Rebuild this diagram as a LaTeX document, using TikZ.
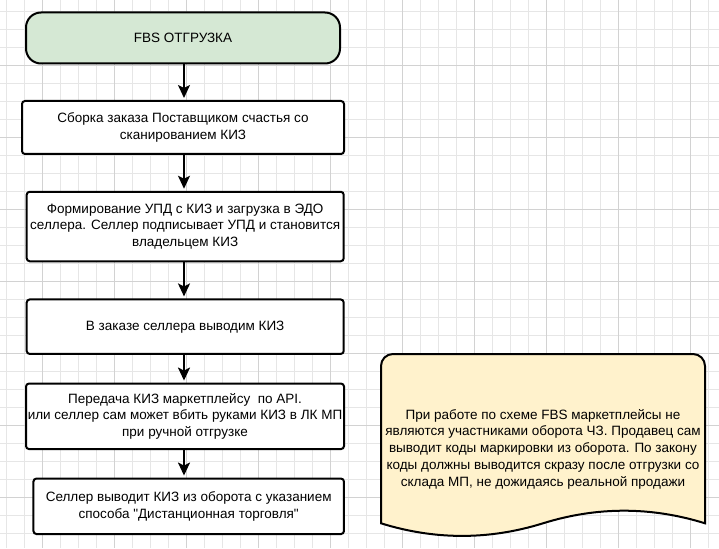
\documentclass[tikz,border=0pt]{standalone}
\usepackage{fontspec}
\setmainfont{Liberation Sans}[Ligatures=TeXOff]
\usepackage{xcolor}
\usetikzlibrary{arrows.meta,positioning}
\definecolor{gridminor}{HTML}{E6E6E6}
\definecolor{gridmajor}{HTML}{D2D2D2}
\definecolor{startgreen}{HTML}{D5E8D4}
\definecolor{noteyellow}{HTML}{FFF2CC}

\begin{document}
\begin{tikzpicture}[
    x=1pt, y=-1pt,
    font=\fontsize{13.5}{16.8}\selectfont,
    box/.style={rectangle, draw, line width=2pt, rounded corners=3pt, fill=white, align=center, inner sep=0pt},
    startbox/.style={box, fill=startgreen, rounded corners=15pt},
    arr/.style={-{Stealth[length=13pt, width=12pt, inset=3pt]}, line width=2pt, shorten >=2pt},
    notebox/.style={draw, line width=2pt, fill=noteyellow}
]
\useasboundingbox (0,0) rectangle (719,548);
\fill[white] (0,0) rectangle (719,548);

% Grid
\foreach \k in {0,...,39} \draw[gridminor, line width=1pt] (6.3+18*\k,0) -- (6.3+18*\k,548);
\foreach \k in {0,...,29} \draw[gridminor, line width=1pt] (0,11.3+18*\k) -- (719,11.3+18*\k);
\foreach \k in {0,...,9} \draw[gridmajor, line width=1pt] (42.3+72*\k,0) -- (42.3+72*\k,548);
\foreach \k in {0,...,6} \draw[gridmajor, line width=1pt] (0,65.3+72*\k) -- (719,65.3+72*\k);

% Flow boxes
\node[startbox, minimum width=314pt, minimum height=51pt] (start) at (183,38) {FBS ОТГРУЗКА};
\node[box, minimum width=322pt, minimum height=53pt] (sborka) at (183,127.5)
    {Сборка заказа Поставщиком счастья со\\сканированием КИЗ};
\node[box, minimum width=317pt, minimum height=69.5pt] (upd) at (185.2,226.5)
    {Формирование УПД с КИЗ и загрузка в ЭДО\\селлера. Селлер подписывает УПД и становится\\владельцем КИЗ};
\node[box, minimum width=317pt, minimum height=54.5pt] (vyvod) at (185.2,326.7)
    {В заказе селлера выводим КИЗ};
\node[box, minimum width=318pt, minimum height=65.5pt] (peredacha) at (185,416.3)
    {Передача КИЗ маркетплейсу~~по API.\\или селлер сам может вбить руками КИЗ в ЛК МП\\при ручной отгрузке};
\node[box, minimum width=310.5pt, minimum height=55.5pt] (seller) at (188.7,506.3)
    {Селлер выводит КИЗ из оборота с указанием\\способа "Дистанционная торговля"};

% Arrows
\coordinate (axis) at (184,0);
\draw[arr] (start.south -| axis) -- (sborka.north -| axis);
\draw[arr] (sborka.south -| axis) -- (upd.north -| axis);
\draw[arr] (upd.south -| axis) -- (vyvod.north -| axis);
\draw[arr] (vyvod.south -| axis) -- (peredacha.north -| axis);
\draw[arr] (peredacha.south -| axis) -- (seller.north -| axis);

% Note
\draw[notebox] (381,523.3) [rounded corners=12pt] -- (381,354) -- (705,354) [sharp corners] -- (705,523.3)
    .. controls (651,506.5) and (597,506.5) .. (543,523.3)
    .. controls (489,540.1) and (435,540.1) .. (381,523.3) -- cycle;
\node[align=center] (note) at (543,449)
    {При работе по схеме FBS маркетплейсы не\\являются участниками оборота ЧЗ. Продавец сам\\выводит коды маркировки из оборота. По закону\\коды должны выводится скразу после отгрузки со\\склада МП, не дожидаясь реальной продажи};
\end{tikzpicture}
\end{document}
